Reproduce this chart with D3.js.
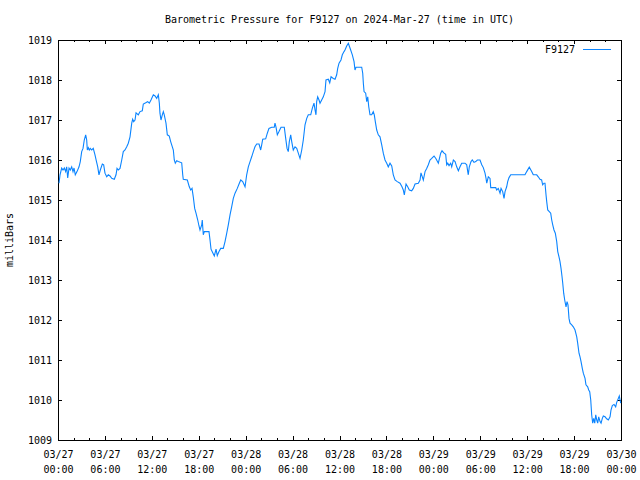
<!DOCTYPE html>
<html>
<head>
<meta charset="utf-8">
<script src="https://cdn.jsdelivr.net/npm/d3@7"></script>
<style>
  html, body { margin: 0; padding: 0; background: #fff; }
  svg { display: block; }
  text { font-family: "DejaVu Sans Mono", monospace; font-size: 10px; fill: #000; }
</style>
</head>
<body>
<svg id="chart" width="640" height="480"></svg>
<script>
// ---- Data (hours since 2024-03-27 00:00 UTC, pressure in mb) ----
const hours = [
0.13,0.26,0.47,0.64,0.81,0.98,1.11,1.24,1.41,1.57,1.75,1.92,2.05,2.21,2.43,2.69,2.85,3.03,3.20,3.36,3.54,3.67,3.75,3.88,4.00,4.13,4.31,4.51,4.73,4.90,5.08,5.24,5.41,5.67,5.84,6.01,6.23,6.43,6.65,6.87,7.20,7.42,7.55,7.71,7.93,8.15,8.35,8.57,8.79,8.99,9.21,9.43,9.55,9.68,9.85,9.98,10.27,10.49,10.78,10.91,11.22,11.47,11.68,11.89,12.19,
12.41,12.62,12.83,12.96,13.04,13.17,13.34,13.47,13.59,13.81,13.98,14.23,14.41,14.54,14.75,14.87,15.00,15.18,15.38,15.82,15.95,16.02,16.54,16.79,16.97,17.14,17.30,17.48,17.65,17.87,18.03,18.16,18.38,18.45,18.58,18.71,18.93,19.31,19.44,19.57,19.79,19.99,20.21,20.37,20.59,20.81,21.14,21.36,21.58,21.78,22.00,22.21,22.42,22.64,22.93,23.19,23.37,23.62,23.92,24.13,24.34,24.56,
24.77,24.98,25.19,25.41,25.71,25.92,26.05,26.18,26.56,26.77,26.98,27.33,27.66,27.75,27.88,28.05,28.26,28.52,28.94,29.12,29.29,29.45,29.58,29.76,29.89,30.09,30.31,30.53,30.73,30.95,31.17,31.37,31.59,31.81,32.01,32.32,32.52,32.74,32.87,32.99,33.08,33.21,33.38,33.51,33.72,33.93,34.15,34.27,34.57,34.75,34.92,35.21,35.43,35.64,35.77,35.94,36.19,36.36,36.58,
36.70,36.92,37.13,37.25,37.43,37.64,37.86,37.98,38.11,38.41,38.84,38.97,39.05,39.14,39.35,39.48,39.61,39.74,39.90,40.12,40.32,40.45,40.58,40.76,40.96,41.18,41.40,41.60,41.82,42.04,42.24,42.46,42.68,42.88,43.10,43.39,43.74,43.99,44.16,44.29,44.51,44.72,44.93,45.23,45.44,45.66,46.08,46.30,46.42,46.59,46.72,46.94,47.15,47.36,47.57,
47.79,48.09,48.34,48.64,48.94,49.11,49.37,49.58,49.71,49.84,50.01,50.22,50.35,50.56,50.78,50.99,51.20,51.41,51.63,52.05,52.27,52.40,52.47,52.60,52.82,52.98,53.20,53.42,53.63,53.97,54.19,54.39,54.61,54.74,54.83,55.03,55.25,55.34,55.67,55.98,56.10,56.31,56.53,56.66,56.87,57.04,57.17,57.38,57.51,57.68,57.90,58.66,59.72,59.94,60.27,60.58,60.78,61.22,61.42,61.64,
61.85,61.98,62.15,62.28,62.41,62.50,62.63,62.83,63.01,63.14,63.27,63.43,63.60,63.78,63.91,64.07,64.20,64.33,64.46,64.55,64.67,64.80,64.97,65.10,65.22,65.35,65.48,65.70,65.90,66.12,66.34,66.46,66.63,66.76,66.89,67.05,67.18,67.40,67.52,67.74,67.87,68.00,68.13,68.25,68.38,68.51,68.64,68.77,68.90,69.02,69.15,69.32,69.45,69.61,69.74,69.96,70.17,70.38,70.60,70.72,70.89,71.11,71.32,71.45,71.66,71.78,71.96
];
const pressure = [
1015.42,1015.63,1015.80,1015.75,1015.80,1015.71,1015.83,1015.55,1015.80,1015.75,1015.83,1015.71,1015.80,1015.63,1015.71,1015.83,1015.96,1016.21,1016.29,1016.50,1016.63,1016.50,1016.25,1016.31,1016.25,1016.29,1016.25,1016.29,1016.13,1015.98,1015.83,1015.63,1015.75,1015.90,1015.88,1015.67,1015.58,1015.63,1015.60,1015.54,1015.52,1015.63,1015.79,1015.75,1015.79,1016.00,1016.21,1016.25,1016.33,1016.42,1016.58,1016.92,1017.02,1016.96,1017.00,1017.18,1017.13,1017.21,1017.23,1017.40,1017.43,1017.46,1017.42,1017.50,1017.63,
1017.60,1017.54,1017.63,1017.42,1017.17,1017.00,1017.13,1017.21,1017.13,1016.92,1016.63,1016.60,1016.46,1016.38,1016.25,1016.00,1015.92,1015.98,1015.96,1015.93,1015.63,1015.52,1015.50,1015.33,1015.25,1015.29,1015.08,1014.79,1014.67,1014.50,1014.35,1014.25,1014.38,1014.50,1014.13,1014.21,1014.21,1014.21,1014.00,1013.77,1013.68,1013.60,1013.77,1013.61,1013.71,1013.79,1013.79,1013.96,1014.17,1014.38,1014.63,1014.83,1015.04,1015.17,1015.29,1015.42,1015.50,1015.46,1015.33,1015.63,1015.83,1015.96,
1016.08,1016.21,1016.33,1016.40,1016.40,1016.25,1016.38,1016.52,1016.53,1016.67,1016.79,1016.82,1016.82,1016.92,1016.82,1016.63,1016.71,1016.82,1016.82,1016.54,1016.29,1016.21,1016.46,1016.63,1016.46,1016.25,1016.33,1016.29,1016.17,1016.04,1016.25,1016.50,1016.88,1017.04,1017.13,1017.13,1017.29,1017.42,1017.25,1017.13,1017.46,1017.58,1017.50,1017.42,1017.50,1017.58,1017.71,1018.00,1018.02,1017.93,1018.08,1018.04,1018.02,1018.13,1018.29,1018.42,1018.50,1018.63,1018.71,
1018.75,1018.85,1018.92,1018.85,1018.75,1018.63,1018.46,1018.25,1018.32,1018.32,1018.32,1018.17,1017.92,1017.71,1017.67,1017.46,1017.58,1017.33,1017.13,1017.13,1017.21,1017.13,1016.96,1016.75,1016.63,1016.58,1016.38,1016.17,1016.00,1015.92,1015.83,1015.92,1015.85,1015.63,1015.50,1015.46,1015.42,1015.33,1015.25,1015.13,1015.40,1015.33,1015.25,1015.23,1015.29,1015.40,1015.42,1015.50,1015.68,1015.58,1015.50,1015.71,1015.79,1015.88,1016.00,
1016.04,1016.10,1016.03,1015.92,1016.17,1016.23,1016.17,1016.14,1015.88,1015.92,1015.86,1015.92,1015.83,1016.00,1015.96,1015.83,1015.73,1015.83,1015.92,1015.92,1015.88,1015.71,1015.63,1015.83,1015.96,1016.00,1015.94,1015.96,1016.00,1016.00,1015.88,1015.81,1015.67,1015.54,1015.42,1015.58,1015.54,1015.31,1015.31,1015.31,1015.25,1015.29,1015.17,1015.29,1015.21,1015.04,1015.21,1015.33,1015.46,1015.56,1015.63,1015.63,1015.63,1015.71,1015.82,1015.71,1015.63,1015.63,1015.58,1015.52,
1015.50,1015.38,1015.42,1015.42,1015.13,1014.96,1014.75,1014.71,1014.67,1014.50,1014.38,1014.25,1014.17,1013.96,1013.71,1013.58,1013.46,1013.29,1013.08,1012.92,1012.67,1012.50,1012.33,1012.46,1012.38,1012.04,1011.92,1011.88,1011.83,1011.75,1011.58,1011.42,1011.17,1011.08,1010.96,1010.79,1010.67,1010.54,1010.38,1010.33,1010.25,1010.21,1010.00,1009.63,1009.42,1009.54,1009.42,1009.63,1009.50,1009.42,1009.58,1009.46,1009.42,1009.54,1009.60,1009.58,1009.53,1009.50,1009.58,1009.75,1009.86,1009.89,1009.83,1009.94,1010.04,1010.10,1009.92
];
const seriesName = "F9127";
const titleText = "Barometric Pressure for F9127 on 2024-Mar-27 (time in UTC)";
const yLabelText = "milliBars";
const yTicks = [1009,1010,1011,1012,1013,1014,1015,1016,1017,1018,1019];
const xTickHours = [0,6,12,18,24,30,36,42,48,54,60,66,72];
const xTickDates = ["03/27","03/27","03/27","03/27","03/28","03/28","03/28","03/28","03/29","03/29","03/29","03/29","03/30"];
const xTickTimes = ["00:00","06:00","12:00","18:00","00:00","06:00","12:00","18:00","00:00","06:00","12:00","18:00","00:00"];
const xMinorHours = d3.range(0, 73, 2).filter(h => h % 6 !== 0);

// ---- Layout ----
const L = 58, R = 621, T = 40, B = 440;
const svg = d3.select("#chart");
const x = d3.scaleLinear().domain([0, 72]).range([L, R]);
const y = d3.scaleLinear().domain([1009, 1019]).range([B, T]);

// Title
svg.append("text").attr("x", (L + R) / 2).attr("y", 23)
  .attr("text-anchor", "middle").text(titleText);

// Y label
svg.append("text").attr("transform", "translate(13,240) rotate(-90)")
  .attr("text-anchor", "middle").text(yLabelText);

function styleAxis(g) {
  g.select(".domain").remove();
  g.selectAll("line").attr("stroke", "#000").attr("shape-rendering", "crispEdges");
  g.selectAll("text").attr("font-family", "DejaVu Sans Mono").attr("font-size", 10).attr("fill", "#000");
}

// Bottom major
const gB = svg.append("g").attr("transform", `translate(0,${B})`)
  .call(d3.axisBottom(x).tickValues(xTickHours).tickSize(-4).tickSizeOuter(0).tickPadding(10)
    .tickFormat(() => ""));
styleAxis(gB);
gB.selectAll(".tick text").each(function(d, i) {
  const t = d3.select(this).attr("y", null).attr("dy", null);
  t.append("tspan").attr("x", 0).attr("y", 18).text(xTickDates[i]);
  t.append("tspan").attr("x", 0).attr("y", 33).text(xTickTimes[i]);
});
// Bottom minor
styleAxis(svg.append("g").attr("transform", `translate(0,${B})`)
  .call(d3.axisBottom(x).tickValues(xMinorHours).tickSize(-2).tickSizeOuter(0).tickFormat(() => "")));
// Top major/minor
styleAxis(svg.append("g").attr("transform", `translate(0,${T})`)
  .call(d3.axisTop(x).tickValues(xTickHours).tickSize(-4).tickSizeOuter(0).tickFormat(() => "")));
styleAxis(svg.append("g").attr("transform", `translate(0,${T})`)
  .call(d3.axisTop(x).tickValues(xMinorHours).tickSize(-2).tickSizeOuter(0).tickFormat(() => "")));
// Left
const gL = svg.append("g").attr("transform", `translate(${L},0)`)
  .call(d3.axisLeft(y).tickValues(yTicks).tickSize(-4).tickSizeOuter(0).tickPadding(6).tickFormat(d3.format("d")));
styleAxis(gL);
// Right
styleAxis(svg.append("g").attr("transform", `translate(${R},0)`)
  .call(d3.axisRight(y).tickValues(yTicks).tickSize(-4).tickSizeOuter(0).tickFormat(() => "")));

// Border
svg.append("rect").attr("x", L + 0.5).attr("y", T + 0.5).attr("width", R - L - 1 + 1).attr("height", B - T)
  .attr("fill", "none").attr("stroke", "#000").attr("stroke-width", 1).attr("shape-rendering", "crispEdges");

// Line
const data = hours.map((h, i) => ({ h, p: pressure[i] }));
const lineColor = "#0a84ff";
svg.append("path").datum(data)
  .attr("fill", "none").attr("stroke", lineColor).attr("stroke-width", 1.1)
  .attr("d", d3.line().x(d => x(d.h)).y(d => y(d.p)));

// Legend
svg.append("text").attr("x", 575).attr("y", 53).attr("text-anchor", "end").text(seriesName);
svg.append("line").attr("x1", 583).attr("x2", 611).attr("y1", 49.5).attr("y2", 49.5)
  .attr("stroke", lineColor).attr("stroke-width", 1);
</script>
</body>
</html>
